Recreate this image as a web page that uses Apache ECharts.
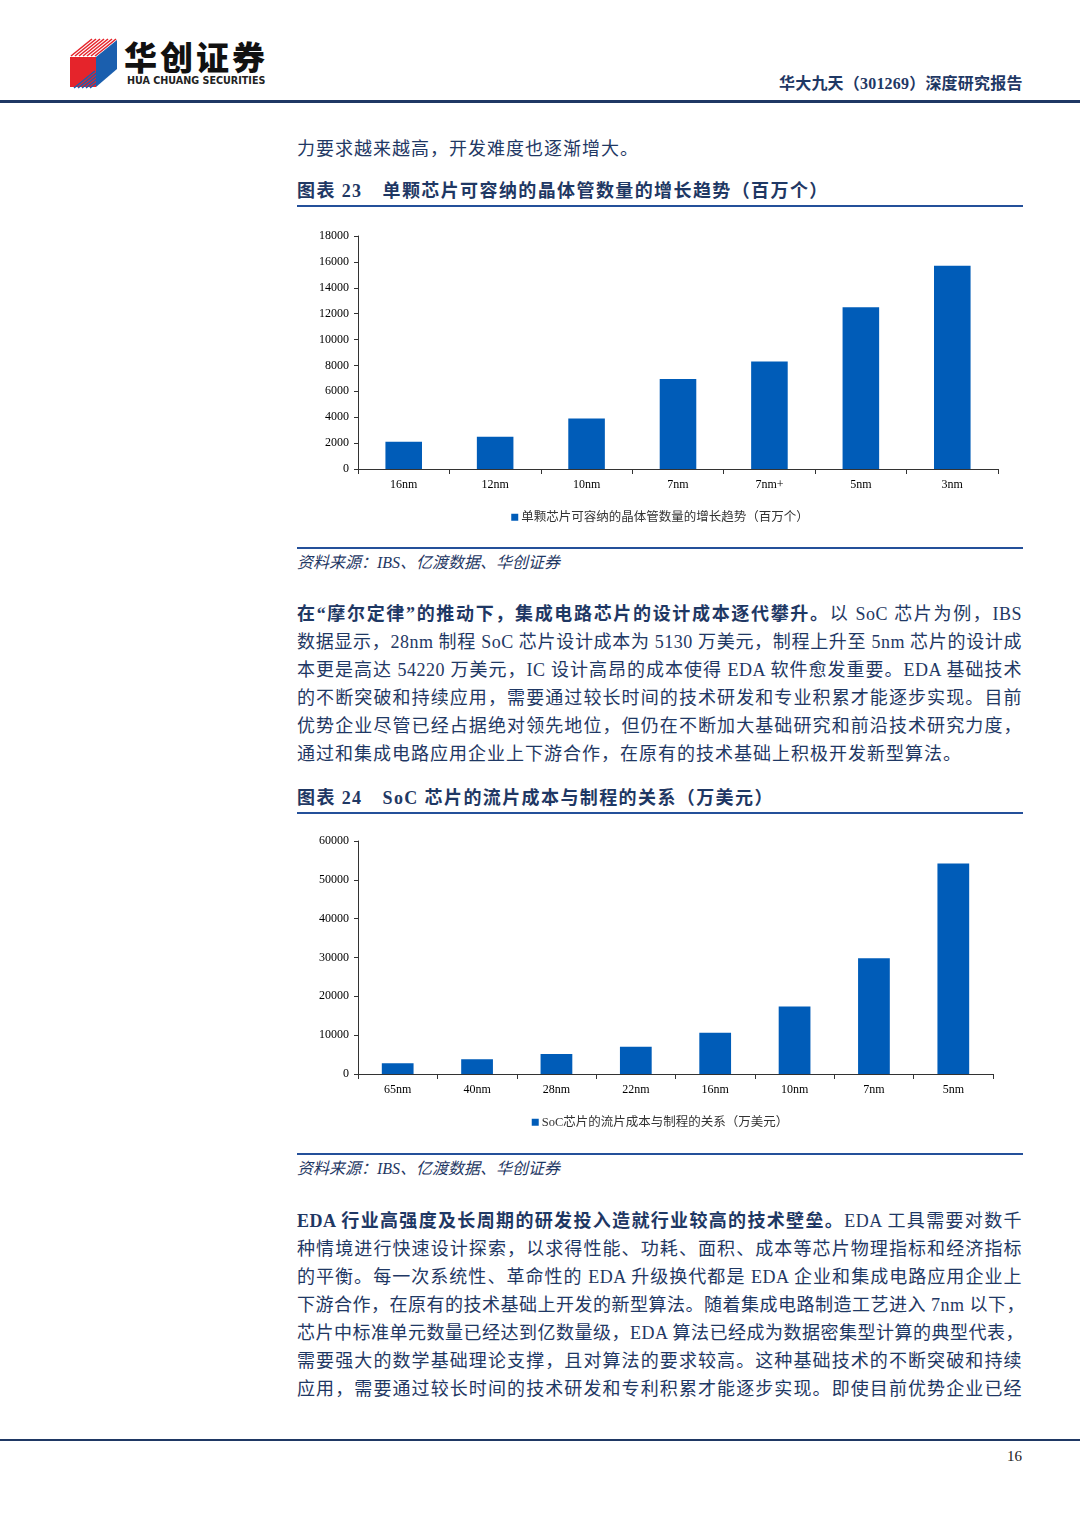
<!DOCTYPE html>
<html>
<head>
<meta charset="utf-8">
<script src="https://cdn.jsdelivr.net/npm/echarts@6/dist/echarts.min.js"></script>
<style>
  html, body { margin:0; padding:0; background:#fff; }
  body { width:1080px; height:1527px; position:relative; overflow:hidden;
         font-family:"Liberation Serif","Noto Sans CJK SC",serif; color:#1f3864; }
  .abs { position:absolute; }
  .line { position:absolute; left:297px; width:725px; height:28px; line-height:28px; font-size:18px;
          white-space:nowrap; text-align:justify; text-align-last:justify; color:#1f3864; letter-spacing:0.5px; }
  .line.last { text-align-last:left; letter-spacing:1px; }
  .b { font-weight:bold; }
  .title { position:absolute; left:297px; height:28px; line-height:28px; font-size:18px; font-weight:bold; color:#1f3864; white-space:nowrap; letter-spacing:1.4px; }
  .rule { position:absolute; left:297px; width:726px; height:2px; background:#24509a; }
  .src { position:absolute; left:297px; height:28px; line-height:28px; font-size:16px; font-style:italic; color:#1f3864; white-space:nowrap; }
</style>
</head>
<body>
<!-- header -->
<svg class="abs" style="left:0;top:0" width="130" height="100">
  <polygon points="70,57 96,57 96,87 70,87" fill="#e5242b"/>
  <polygon points="96,57 117,40 117,69 96,87" fill="#1b5fae"/>
  <g stroke="#e5242b" stroke-width="1.6">
    <line x1="71" y1="56" x2="92" y2="39"/>
    <line x1="75" y1="56" x2="96" y2="39"/>
    <line x1="79" y1="56" x2="100" y2="39"/>
    <line x1="83" y1="56" x2="104" y2="39"/>
    <line x1="87" y1="56" x2="108" y2="39"/>
    <line x1="91" y1="56" x2="112" y2="39"/>
    <line x1="95" y1="56" x2="116" y2="39"/>
  </g>
  <g stroke="#1b5fae" stroke-width="1.6">
    <line x1="74" y1="88" x2="95" y2="71"/>
    <line x1="78" y1="88" x2="99" y2="71"/>
    <line x1="82" y1="88" x2="103" y2="71"/>
    <line x1="86" y1="88" x2="107" y2="71"/>
    <line x1="90" y1="88" x2="111" y2="71"/>
  </g>
</svg>
<div class="abs" style="left:124px;top:36px;font-family:'Noto Sans CJK SC';font-weight:900;font-size:33px;letter-spacing:3px;color:#111;line-height:40px;">华创证券</div>
<div class="abs" style="left:127px;top:75px;font-family:'DejaVu Sans';font-weight:bold;font-size:9.6px;letter-spacing:0px;color:#222;line-height:12px;">HUA CHUANG SECURITIES</div>
<div class="abs" style="left:779px;top:74px;font-size:16px;font-weight:bold;color:#1f3864;line-height:20px;white-space:nowrap;letter-spacing:0.2px;">华大九天（301269）深度研究报告</div>
<div class="abs" style="left:0;top:100px;width:1080px;height:3px;background:#1f3864;"></div>

<!-- text 1 -->
<div class="line last" style="top:135px;">力要求越来越高，开发难度也逐渐增大。</div>
<div class="title" style="top:177px;">图表 23<span style="display:inline-block;width:20px"></span>单颗芯片可容纳的晶体管数量的增长趋势（百万个）</div>
<div class="rule" style="top:205px;"></div>

<div id="chart1" class="abs" style="left:290px;top:225px;width:740px;height:305px;"></div>

<div class="rule" style="top:547px;"></div>
<div class="src" style="top:549px;">资料来源：IBS、亿渡数据、华创证券</div>

<div class="line" style="top:600px;"><span class="b">在“摩尔定律”的推动下，集成电路芯片的设计成本逐代攀升。</span>以 SoC 芯片为例，IBS</div>
<div class="line" style="top:628px;">数据显示，28nm 制程 SoC 芯片设计成本为 5130 万美元，制程上升至 5nm 芯片的设计成</div>
<div class="line" style="top:656px;">本更是高达 54220 万美元，IC 设计高昂的成本使得 EDA 软件愈发重要。EDA 基础技术</div>
<div class="line" style="top:684px;">的不断突破和持续应用，需要通过较长时间的技术研发和专业积累才能逐步实现。目前</div>
<div class="line" style="top:712px;">优势企业尽管已经占据绝对领先地位，但仍在不断加大基础研究和前沿技术研究力度，</div>
<div class="line last" style="top:740px;">通过和集成电路应用企业上下游合作，在原有的技术基础上积极开发新型算法。</div>

<div class="title" style="top:784px;">图表 24<span style="display:inline-block;width:20px"></span>SoC 芯片的流片成本与制程的关系（万美元）</div>
<div class="rule" style="top:812px;"></div>

<div id="chart2" class="abs" style="left:290px;top:830px;width:740px;height:305px;"></div>

<div class="rule" style="top:1153px;"></div>
<div class="src" style="top:1155px;">资料来源：IBS、亿渡数据、华创证券</div>

<div class="line" style="top:1207px;"><span class="b">EDA 行业高强度及长周期的研发投入造就行业较高的技术壁垒。</span>EDA 工具需要对数千</div>
<div class="line" style="top:1235px;">种情境进行快速设计探索，以求得性能、功耗、面积、成本等芯片物理指标和经济指标</div>
<div class="line" style="top:1263px;">的平衡。每一次系统性、革命性的 EDA 升级换代都是 EDA 企业和集成电路应用企业上</div>
<div class="line" style="top:1291px;">下游合作，在原有的技术基础上开发的新型算法。随着集成电路制造工艺进入 7nm 以下，</div>
<div class="line" style="top:1319px;">芯片中标准单元数量已经达到亿数量级，EDA 算法已经成为数据密集型计算的典型代表，</div>
<div class="line" style="top:1347px;">需要强大的数学基础理论支撑，且对算法的要求较高。这种基础技术的不断突破和持续</div>
<div class="line" style="top:1375px;">应用，需要通过较长时间的技术研发和专利积累才能逐步实现。即使目前优势企业已经</div>

<!-- footer -->
<div class="abs" style="left:0;top:1439px;width:1080px;height:2px;background:#1f3864;"></div>
<div class="abs" style="left:1007px;top:1446px;font-size:15px;color:#222;line-height:20px;">16</div>

<script>
// ---- data ----
const nodes1 = ['16nm','12nm','10nm','7nm','7nm+','5nm','3nm'];
const transistors = [2100, 2500, 3900, 6950, 8300, 12500, 15700];
const name1 = '单颗芯片可容纳的晶体管数量的增长趋势（百万个）';

const nodes2 = ['65nm','40nm','28nm','22nm','16nm','10nm','7nm','5nm'];
const soccost = [2800, 3800, 5130, 7000, 10600, 17400, 29800, 54220];
const name2 = 'SoC芯片的流片成本与制程的关系（万美元）';

const FONT = 'Liberation Serif, Noto Sans CJK SC, serif';
const BAR = '#005cb8';

function makeOption(cats, vals, name, max, interval, gridW) {
  return {
    animation: false,
    textStyle: { fontFamily: FONT },
    legend: {
      data: [name], top: 281, left: 'center',
      icon: 'rect', itemWidth: 7, itemHeight: 7, itemGap: 2,
      textStyle: { fontSize: 12.5, color: '#333', fontFamily: FONT, padding: [0, 0, 0, -2] }
    },
    grid: { left: 68, top: 11, height: 233, width: gridW, containLabel: false },
    xAxis: {
      type: 'category', data: cats,
      axisLine: { lineStyle: { color: '#333', width: 1 } },
      axisTick: { show: true, length: 5, lineStyle: { color: '#333' } },
      axisLabel: { color: '#000', fontSize: 12, margin: 10, fontFamily: FONT }
    },
    yAxis: {
      type: 'value', min: 0, max: max, interval: interval,
      axisLine: { show: true, lineStyle: { color: '#333', width: 1 } },
      axisTick: { show: true, length: 4, lineStyle: { color: '#333' } },
      splitLine: { show: false },
      axisLabel: { color: '#000', fontSize: 12, margin: 9, fontFamily: FONT,
                   formatter: function (v) { return String(v); } }
    },
    series: [{
      name: name, type: 'bar', data: vals, barWidth: '40%',
      itemStyle: { color: BAR }
    }]
  };
}

echarts.init(document.getElementById('chart1'), null, { renderer: 'canvas' })
  .setOption(makeOption(nodes1, transistors, name1, 18000, 2000, 640));
echarts.init(document.getElementById('chart2'), null, { renderer: 'canvas' })
  .setOption(makeOption(nodes2, soccost, name2, 60000, 10000, 635));
</script>
</body>
</html>
